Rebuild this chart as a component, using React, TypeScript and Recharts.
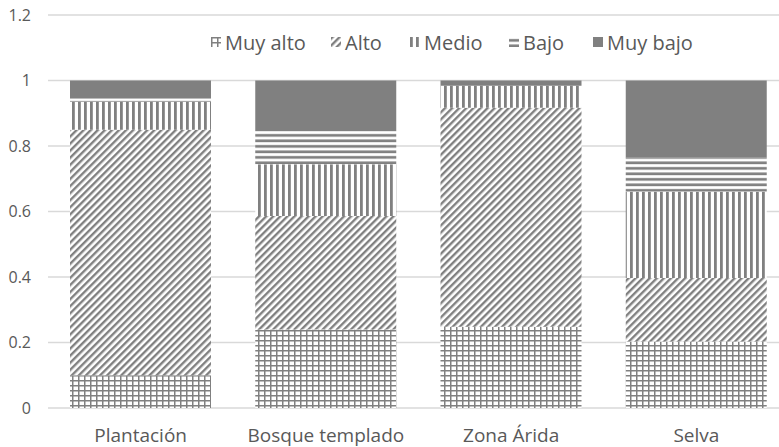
import React from 'react';
import { ComposedChart, Bar, XAxis, YAxis, CartesianGrid } from 'recharts';

const categories = ['Plantación', 'Bosque templado', 'Zona Árida', 'Selva'];
const muyAlto = [0.1, 0.24, 0.248, 0.203];
const alto = [0.75, 0.346, 0.669, 0.194];
const medio = [0.085, 0.158, 0.067, 0.263];
const bajo = [0.01, 0.105, 0.0, 0.104];
const muyBajo = [0.055, 0.151, 0.016, 0.236];
const yTicks = [0, 0.2, 0.4, 0.6, 0.8, 1, 1.2];

const seriesNames = ['Muy alto', 'Alto', 'Medio', 'Bajo', 'Muy bajo'];
const seriesKeys = ['muyAlto', 'alto', 'medio', 'bajo', 'muyBajo'];

const rows = categories.map((c, i) => ({
  name: c,
  muyAlto: muyAlto[i],
  alto: alto[i],
  medio: medio[i],
  bajo: bajo[i],
  muyBajo: muyBajo[i],
}));

const GRAY = '#808080';
const TEXT = '#595959';
const FONT = '"Open Sans", "Noto Sans", sans-serif';

function Patterns({ p }: { p: string }) {
  return (
    <defs>
      <pattern id={`${p}-muyAlto`} width={6} height={5} patternUnits="userSpaceOnUse">
        <rect width={6} height={5} fill="#fff" />
        <rect x={0} y={0} width={1.5} height={5} fill={GRAY} />
        <rect x={0} y={0} width={6} height={1.5} fill={GRAY} />
      </pattern>
      <pattern id={`${p}-alto`} width={5} height={5} patternUnits="userSpaceOnUse" patternTransform="rotate(45)">
        <rect width={5} height={5} fill="#fff" />
        <rect x={0} y={0} width={2.4} height={5} fill={GRAY} />
      </pattern>
      <pattern id={`${p}-medio`} width={6} height={6} patternUnits="userSpaceOnUse">
        <rect width={6} height={6} fill="#fff" />
        <rect x={0} y={0} width={2.8} height={6} fill={GRAY} />
      </pattern>
      <pattern id={`${p}-bajo`} width={6} height={5.5} patternUnits="userSpaceOnUse">
        <rect width={6} height={5.5} fill="#fff" />
        <rect x={0} y={2} width={6} height={2.7} fill={GRAY} />
      </pattern>
    </defs>
  );
}

const fillFor = (p: string, key: string) => (key === 'muyBajo' ? GRAY : `url(#${p}-${key})`);

// left edge of each legend icon
const legendX = [211, 331, 410, 509, 593];

export default function App() {
  return (
    <div style={{ position: 'absolute', left: 0, top: 0, width: 779, height: 447, overflow: 'hidden', background: '#fff', fontFamily: FONT }}>
      <ComposedChart width={790} height={447} data={rows} margin={{ top: 15, right: 1, left: 0, bottom: 0 }}>
        <Patterns p="c" />
        <CartesianGrid vertical={false} stroke="#d9d9d9" strokeWidth={1.3} />
        <YAxis
          width={48}
          domain={[0, 1.2]}
          ticks={yTicks}
          interval={0}
          axisLine={false}
          tickLine={false}
          tickSize={0}
          tickMargin={17}
          tick={{ fontSize: 16, fill: TEXT, fontFamily: FONT }}
          tickFormatter={(v: number) => String(+v.toFixed(1))}
        />
        <XAxis
          dataKey="name"
          height={39}
          axisLine={false}
          tickLine={false}
          tickSize={0}
          tickMargin={21}
          tick={{ fontSize: 19, fill: TEXT, fontFamily: FONT }}
        />
        {seriesKeys.map((k, i) => (
          <Bar
            key={k}
            dataKey={k}
            name={seriesNames[i]}
            stackId="s"
            barSize={141}
            fill={fillFor('c', k)}
            isAnimationActive={false}
          />
        ))}
      </ComposedChart>
      <div style={{ position: 'absolute', left: 0, top: 28, width: 779, height: 28 }}>
        {seriesKeys.map((k, i) => (
          <div key={k} style={{ position: 'absolute', left: legendX[i], top: 0, display: 'flex', alignItems: 'center', height: 28 }}>
            <svg width={10} height={10} style={{ marginRight: 4 }}>
              <Patterns p={`l${i}`} />
              <rect width={10} height={10} fill={fillFor(`l${i}`, k)} />
            </svg>
            <span style={{ fontSize: 20, color: TEXT, whiteSpace: 'nowrap' }}>{seriesNames[i]}</span>
          </div>
        ))}
      </div>
    </div>
  );
}
